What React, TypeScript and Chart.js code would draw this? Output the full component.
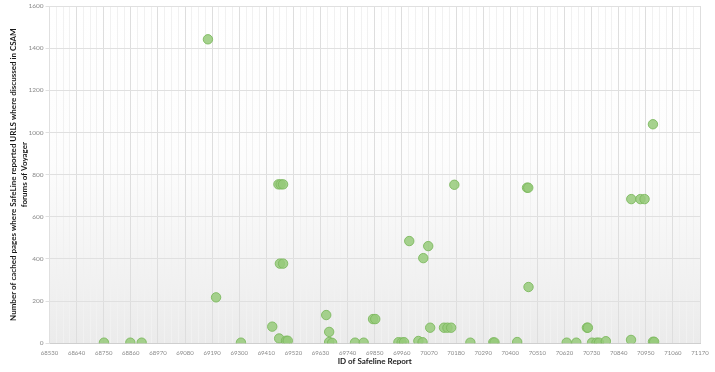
import React, { useEffect, useRef } from "react";
import { Chart, registerables } from "chart.js";

Chart.register(...registerables);

// ---- Data ----
const reportIds: number[] = [
  69173, 69206, 68751, 68858, 68904, 69307,
  69465, 69478, 69434, 69462, 69490, 69497,
  69653, 69665, 69665, 69677, 69770, 69805,
  69843, 69852, 69946, 69959, 69969, 70027,
  70044, 70047, 70067, 70075, 70131, 70145,
  70160, 70173, 69459, 69468, 69478, 70238,
  70331, 70336, 70428, 70474, 70468, 70473,
  69990, 70629, 70668, 70711, 70715, 70732,
  70750, 70760, 70788, 70890, 70979, 70984,
  70979, 70891, 70928, 70945,
];
const cachedPages: number[] = [
  1442, 218, 3, 3, 3, 3,
  378, 378, 79, 23, 12, 12,
  134, 54, 6, 2, 3, 3,
  115, 115, 5, 4, 5, 11,
  5, 404, 461, 74, 74, 74,
  74, 752, 754, 754, 754, 3,
  4, 4, 6, 267, 738, 738,
  485, 3, 3, 74, 74, 3,
  3, 3, 10, 16, 7, 7,
  1039, 684, 684, 684,
];

const xMin = 68530;
const xMax = 71170;
const xMajorStep = 110;
const xMinorStep = 27.5;
const yMin = 0;
const yMax = 1600;
const yStep = 200;

const yTitle = [
  "Number of cached pages where SafeLine reported URLS where discussed in CSAM",
  "forums of Voyager",
];
const xTitle = "ID of Safeline Report";

const FONT = "Lato, 'Open Sans', sans-serif";

const bgPlugin = {
  id: "bgGradient",
  beforeDraw(chart: any) {
    const { ctx, chartArea } = chart;
    if (!chartArea) return;
    const g = ctx.createLinearGradient(0, chartArea.top, 0, chartArea.bottom);
    g.addColorStop(0, "#ffffff");
    g.addColorStop(0.45, "#fdfdfd");
    g.addColorStop(1, "#ebebeb");
    ctx.save();
    ctx.fillStyle = g;
    ctx.fillRect(chartArea.left, chartArea.top, chartArea.right - chartArea.left, chartArea.bottom - chartArea.top);
    ctx.restore();
  },
};

export default function App() {
  const ref = useRef<HTMLCanvasElement>(null);

  useEffect(() => {
    document.body.style.margin = "0";
    const canvas = ref.current;
    if (!canvas) return;
    const points = reportIds.map((x, i) => ({ x, y: cachedPages[i] }));

    const isMajor = (v: number) => {
      const r = (v - xMin) / xMajorStep;
      return Math.abs(r - Math.round(r)) < 1e-6;
    };

    const chart = new Chart(canvas, {
      type: "scatter",
      data: {
        datasets: [
          {
            data: points,
            backgroundColor: "rgba(150,202,122,0.85)",
            borderColor: "rgba(125,185,95,0.9)",
            borderWidth: 1,
            pointRadius: 4.7,
            pointHoverRadius: 4.7,
          },
        ],
      },
      options: {
        animation: false,
        responsive: false,
        devicePixelRatio: 1,
        layout: { padding: { left: 0, right: 15, top: 6, bottom: 0 } },
        plugins: {
          legend: { display: false },
          tooltip: { enabled: false },
        },
        scales: {
          x: {
            type: "linear",
            min: xMin,
            max: xMax,
            afterBuildTicks(scale: any) {
              const ticks = [];
              const n = Math.round((xMax - xMin) / xMinorStep);
              for (let i = 0; i <= n; i++) ticks.push({ value: xMin + i * xMinorStep });
              scale.ticks = ticks;
            },
            afterFit(scale: any) {
              scale.height = 28.7;
            },
            ticks: {
              autoSkip: false,
              maxRotation: 0,
              minRotation: 0,
              padding: 2,
              color: "#8a8a8a",
              font: { family: FONT, size: 6 },
              callback(value: any) {
                return isMajor(Number(value)) ? String(Math.round(Number(value))) : "";
              },
            },
            grid: {
              color(ctx: any) {
                const v = ctx.tick ? ctx.tick.value : 0;
                return isMajor(v) ? "#dedede" : "#f1f1f1";
              },
              lineWidth: 1,
              tickLength: 4,
              tickColor: "rgba(0,0,0,0)",
            },
            border: { color: "#cfcfcf" },
            title: {
              display: true,
              text: xTitle,
              color: "#1a1a1a",
              font: { family: FONT, size: 8, weight: "bold", lineHeight: 1.35 },
              padding: { top: 0, bottom: 5 },
            },
          },
          y: {
            type: "linear",
            min: yMin,
            max: yMax,
            afterFit(scale: any) {
              scale.width = 49.5;
            },
            ticks: {
              stepSize: yStep,
              padding: 2,
              color: "#8a8a8a",
              font: { family: FONT, size: 6.5 },
              callback(value: any) {
                return String(Math.round(Number(value)));
              },
            },
            grid: {
              color: "#e0e0e0",
              tickLength: 4,
              tickColor: "#e0e0e0",
            },
            border: { color: "#e0e0e0" },
            title: {
              display: true,
              text: yTitle,
              color: "#1a1a1a",
              font: { family: FONT, size: 8, weight: "bold", lineHeight: 1.35 },
              padding: { top: 8, bottom: 0 },
            },
          },
        },
      },
      plugins: [bgPlugin],
    } as any);

    return () => chart.destroy();
  }, []);

  return (
    <div style={{ width: 715, height: 372 }}>
      <canvas ref={ref} width={715} height={372} style={{ display: "block" }} />
    </div>
  );
}
